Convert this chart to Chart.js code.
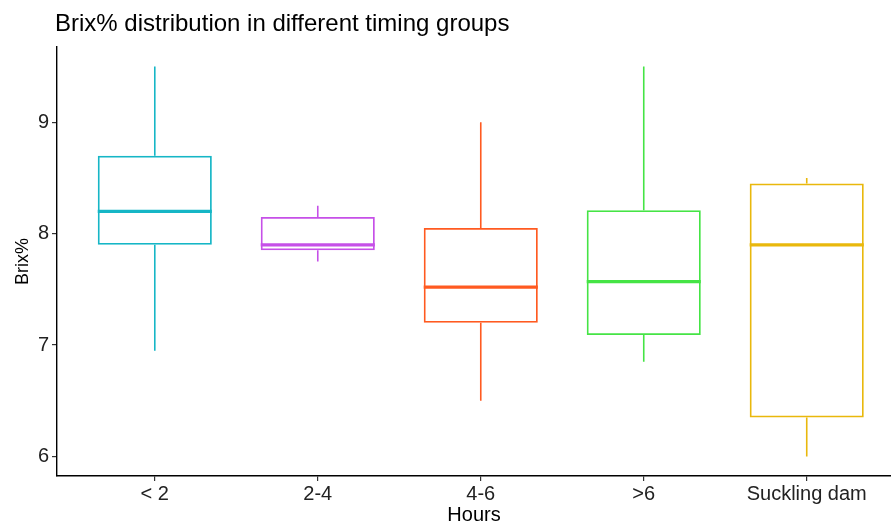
<!DOCTYPE html>
<html>
<head>
<meta charset="utf-8">
<script src="https://cdn.jsdelivr.net/npm/chart.js@4.4.1/dist/chart.umd.min.js"></script>
<style>
  html, body { margin: 0; padding: 0; background: #fff; }
  #wrap { width: 891px; height: 527px; }
</style>
</head>
<body>
<div id="wrap"><canvas id="boxChart"></canvas></div>
<script>
// Box plot values
const groups = ['< 2', '2-4', '4-6', '>6', 'Suckling dam'];
const mins    = [6.95, 7.75, 6.50, 6.85, 6.00];
const q1s     = [7.90, 7.85, 7.20, 7.09, 6.35];
const medians = [8.20, 7.90, 7.52, 7.57, 7.90];
const q3s     = [8.70, 8.15, 8.05, 8.21, 8.45];
const maxs    = [9.50, 8.25, 9.00, 9.50, 8.50];
const yTicks  = [6, 7, 8, 9];
const colors  = ['#16B6C6', '#C650E8', '#FF5A20', '#45E445', '#E9B80C'];

const font = 'Liberation Sans, Arial, Helvetica, sans-serif';

// whiskers, medians and the title
const boxExtras = {
    id: 'boxExtras',
    afterDatasetsDraw(chart) {
        const { ctx, scales: { x, y }, chartArea } = chart;
        const meta = chart.getDatasetMeta(0);
        ctx.save();
        groups.forEach((g, i) => {
            const cx = x.getPixelForValue(i + 1);
            const half = meta.data[i].width / 2;
            ctx.strokeStyle = colors[i];
            ctx.lineCap = 'butt';
            ctx.lineWidth = 1.6;
            ctx.beginPath();
            ctx.moveTo(cx, y.getPixelForValue(q3s[i]));
            ctx.lineTo(cx, y.getPixelForValue(maxs[i]));
            ctx.moveTo(cx, y.getPixelForValue(q1s[i]));
            ctx.lineTo(cx, y.getPixelForValue(mins[i]));
            ctx.stroke();
            ctx.lineWidth = 3.2;
            ctx.beginPath();
            ctx.moveTo(cx - half, y.getPixelForValue(medians[i]));
            ctx.lineTo(cx + half, y.getPixelForValue(medians[i]));
            ctx.stroke();
        });
        ctx.fillStyle = '#000';
        ctx.font = '24px ' + font;
        ctx.textBaseline = 'middle';
        ctx.textAlign = 'left';
        ctx.fillText('Brix% distribution in different timing groups', chartArea.left - 2, 24);
        ctx.restore();
    }
};

const ctx = document.getElementById('boxChart').getContext('2d');
new Chart(ctx, {
    type: 'bar',
    data: {
        datasets: [{
            label: 'Brix%',
            data: groups.map((g, i) => ({ x: i + 1, y: [q1s[i], q3s[i]] })),
            backgroundColor: 'rgba(255,255,255,0)',
            borderColor: colors,
            borderWidth: 1.8,
            borderSkipped: false,
            barPercentage: 0.7,
            categoryPercentage: 1
        }]
    },
    options: {
        responsive: true,
        maintainAspectRatio: false,
        animation: false,
        layout: { padding: { top: 47, left: 0, right: 0, bottom: 0 } },
        plugins: {
            legend: { display: false },
            tooltip: { enabled: false }
        },
        scales: {
            x: {
                type: 'linear',
                offset: false,
                min: 0.4,
                max: 5.517,
                afterBuildTicks: s => { s.ticks = groups.map((g, i) => ({ value: i + 1 })); },
                afterFit: s => { s.height = 51; },
                grid: { display: true, offset: false, drawOnChartArea: false, tickLength: 5, color: '#333', lineWidth: 1.2 },
                border: { display: true, color: '#000', width: 1.4 },
                ticks: {
                    autoSkip: false,
                    maxRotation: 0,
                    padding: 1,
                    color: '#222',
                    font: { family: font, size: 20 },
                    callback: v => groups[v - 1]
                },
                title: {
                    display: true,
                    text: 'Hours',
                    color: '#000',
                    font: { family: font, size: 20 },
                    padding: { top: 0, bottom: 0 }
                }
            },
            y: {
                min: 5.825,
                max: 9.675,
                afterBuildTicks: s => { s.ticks = yTicks.map(v => ({ value: v })); },
                afterFit: s => { s.width = 57; },
                grid: { display: true, drawOnChartArea: false, tickLength: 5, color: '#333', lineWidth: 1.2 },
                border: { display: true, color: '#000', width: 1.4 },
                ticks: {
                    padding: 3,
                    color: '#222',
                    font: { family: font, size: 20 }
                },
                title: {
                    display: true,
                    text: 'Brix%',
                    color: '#000',
                    font: { family: font, size: 18 },
                    padding: { top: 12, bottom: 0 }
                }
            }
        }
    },
    plugins: [boxExtras]
});
</script>
</body>
</html>
